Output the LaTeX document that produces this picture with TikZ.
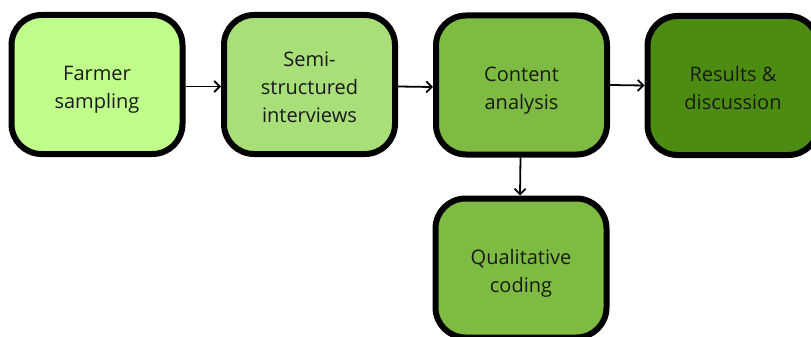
\documentclass[tikz,border=0pt]{standalone}
\usepackage{fontspec}
\setmainfont{Open Sans}
\usetikzlibrary{arrows.meta}
\definecolor{stepA}{HTML}{BFFE8B}
\definecolor{stepB}{HTML}{A8DF79}
\definecolor{stepC}{HTML}{7DBB42}
\definecolor{stepD}{HTML}{4D8C13}
\definecolor{inktext}{HTML}{1A1A1A}
% stacked lines of a box label, drawn a little below the box centre
\newcommand\boxlines[1]{\raisebox{-4.5pt}[\height][\depth]{\begin{tabular}{@{}c@{}}#1\end{tabular}}}
\tikzset{
  stagebox/.style={draw=black, line width=6pt, rounded corners=30pt,
    minimum width=171pt, minimum height=139pt, inner sep=0pt,
    text=inktext, font=\fontsize{20}{28}\selectfont},
  flow/.style={line width=1.8pt, -{Straight Barb[length=5.5pt,width=11pt,line width=1.8pt]}}
}
\begin{document}
\begin{tikzpicture}[x=1pt,y=-1pt]
  \useasboundingbox (0,0) rectangle (811,337);
  \node[stagebox, fill=stepA] (farm) at (97,84.5) {\boxlines{Farmer\\sampling}};
  \node[stagebox, fill=stepB] (semi) at (309.5,84.5) {\boxlines{Semi-\\structured\\interviews}};
  \node[stagebox, fill=stepC] (cont) at (521.5,85) {\boxlines{Content\\analysis}};
  \node[stagebox, fill=stepD] (res) at (733,85.5) {\boxlines{Results \&\\discussion}};
  \node[stagebox, fill=stepC] (qual) at (521,268) {\boxlines{Qualitative\\coding}};
  \draw[flow] ([yshift=-2pt]farm.east) -- ([yshift=-2pt]semi.west);
  \draw[flow] ([yshift=-2pt]semi.east) -- ([yshift=-2pt]cont.west);
  \draw[flow] (cont.east) -- (res.west);
  \draw[flow] ([xshift=-1pt]cont.south) -- ([xshift=-1pt]qual.north);
\end{tikzpicture}
\end{document}
